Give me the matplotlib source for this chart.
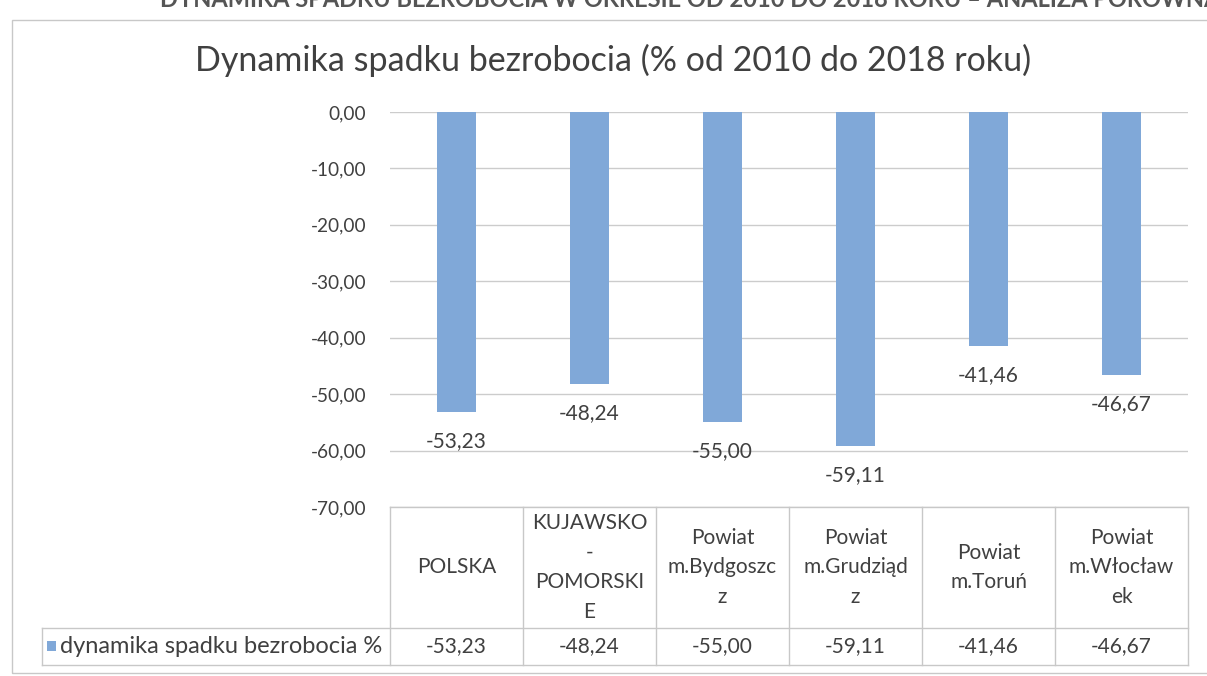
import matplotlib.pyplot as plt
import matplotlib.transforms as mtransforms
from matplotlib.patches import Rectangle

# data
categories = ["POLSKA", "KUJAWSKO\n-\nPOMORSKI\nE", "Powiat\nm.Bydgoszc\nz",
              "Powiat\nm.Grudziąd\nz", "Powiat\nm.Toruń", "Powiat\nm.Włocław\nek"]
values = [-53.23, -48.24, -55.00, -59.11, -41.46, -46.67]
series_name = "dynamika spadku bezrobocia %"
yticks = [0, -10, -20, -30, -40, -50, -60, -70]

bar_color = "#80a8d8"
text_color = "#404040"
grid_color = "#cccccc"
plt.rcParams["font.family"] = ["Lato", "DejaVu Sans"]


def fmt(v):
    return f"{v:.2f}".replace(".", ",")


W, H = 1207, 676
fig = plt.figure(figsize=(W / 100, H / 100), dpi=100)
fig.patch.set_facecolor("white")

# outer chart frame and the cut-off page heading above it
fig.add_artist(Rectangle((12 / W, 3 / H), 1.2, 1 - 23 / H, transform=fig.transFigure,
                         fill=False, edgecolor="#c8c8c8", linewidth=1.0))
fig.text(160 / W, 1 - 7 / H,
         "DYNAMIKA SPADKU BEZROBOCIA W OKRESIE OD 2010 DO 2018 ROKU – ANALIZA PORÓWNAWCZA",
         fontsize=17, fontweight="bold", color="#555555", va="baseline", ha="left")

fig.text(613 / W, 1 - 60 / H, "Dynamika spadku bezrobocia (% od 2010 do 2018 roku)",
         fontsize=24.5, color=text_color, ha="center", va="center")

ax = fig.add_axes([390 / W, 1 - 507 / H, 798 / W, 395 / H])
x = list(range(len(categories)))
ax.bar(x, values, width=0.3, color=bar_color, zorder=2)
ax.set_xlim(-0.5, len(categories) - 0.5)
ax.set_ylim(-70, 0)
ax.set_yticks(yticks)
ax.set_yticklabels([fmt(v) for v in yticks], fontsize=13.7, color=text_color)
ax.tick_params(axis="y", length=0, pad=17)
ax.set_xticks([])
for s in ax.spines.values():
    s.set_visible(False)
ax.yaxis.grid(True, color=grid_color, linewidth=1.0, zorder=0)

for xi, v in zip(x, values):
    ax.annotate(fmt(v), (xi, v), xytext=(0, -21), textcoords="offset points",
                ha="center", va="center", fontsize=15, color=text_color)

# data table under the plot
tr = mtransforms.blended_transform_factory(ax.transData, ax.transAxes)
line_kw = dict(color="#c8c8c8", linewidth=1.0, clip_on=False, transform=tr)
head_bottom, row_bottom = -0.306, -0.40
left_edge = -3.12
n = len(categories)
for i in range(n + 1):
    ax.plot([i - 0.5, i - 0.5], [0, row_bottom], **line_kw)
ax.plot([left_edge, left_edge], [head_bottom, row_bottom], **line_kw)
ax.plot([-0.5, n - 0.5], [0, 0], **line_kw)
ax.plot([left_edge, n - 0.5], [head_bottom, head_bottom], **line_kw)
ax.plot([left_edge, n - 0.5], [row_bottom, row_bottom], **line_kw)

for xi, cat, v in zip(x, categories, values):
    ax.text(xi, head_bottom / 2, cat, transform=tr, ha="center", va="center",
            fontsize=15, color=text_color, linespacing=1.6, multialignment="center")
    ax.text(xi, (head_bottom + row_bottom) / 2, fmt(v), transform=tr, ha="center",
            va="center", fontsize=15, color=text_color)

ymid = (head_bottom + row_bottom) / 2
ax.add_patch(Rectangle((left_edge + 0.04, ymid - 0.012), 0.07, 0.026, transform=tr,
                       facecolor=bar_color, clip_on=False))
ax.text(left_edge + 0.14, ymid, series_name, transform=tr, ha="left", va="center",
        fontsize=17, color=text_color)

fig.savefig("out.png", dpi=100)
